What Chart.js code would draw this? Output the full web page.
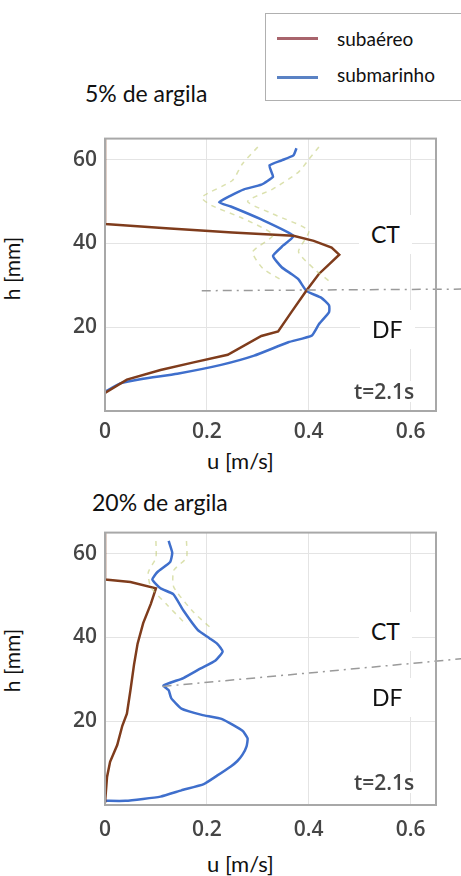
<!DOCTYPE html>
<html>
<head>
<meta charset="utf-8">
<script src="https://cdn.jsdelivr.net/npm/chart.js@4"></script>
<style>
  html, body { margin: 0; padding: 0; background: #fff; }
  body { width: 461px; height: 876px; position: relative; overflow: hidden; font-family: Lato, "Open Sans", sans-serif; color: #111; }
  canvas { position: absolute; left: 0; }
  .txt { position: absolute; white-space: nowrap; line-height: 1; }
  .box { background: #fff; padding: 8px 12px; }
  .tlab { font-family: "Open Sans", sans-serif; font-weight: 600; color: #454545; font-size: 21px; }
  .legend { position: absolute; left: 265px; top: 13px; width: 230px; height: 86px; border: 1.5px solid #b0b0b0; background: #fff; }
  .legend .ln { position: absolute; left: 11px; width: 41px; height: 3px; }
  .legend .lt { position: absolute; left: 71px; font-size: 19px; line-height: 1; }
</style>
</head>
<body>

<div class="legend">
  <div class="ln" style="top:23px;background:#a8646c"></div>
  <div class="lt" style="top:15px">subaéreo</div>
  <div class="ln" style="top:62px;background:#5a82c4"></div>
  <div class="lt" style="top:51px">submarinho</div>
</div>

<div class="txt" style="left:85px;top:82px;font-size:23px">5% de argila</div>
<div class="txt" style="left:92px;top:491px;font-size:23px">20% de argila</div>

<div class="txt" style="left:-20px;top:258px;font-size:21px;transform:rotate(-90deg)">h [mm]</div>
<div class="txt" style="left:-20px;top:650px;font-size:21px;transform:rotate(-90deg)">h [mm]</div>
<div class="txt" style="left:207px;top:450px;font-size:22px">u [m/s]</div>
<div class="txt" style="left:207px;top:853px;font-size:22px">u [m/s]</div>

<canvas id="c1" width="461" height="330" style="top:118px;width:461px;height:330px"></canvas>
<canvas id="c2" width="461" height="330" style="top:512px;width:461px;height:330px"></canvas>

<div class="txt box" style="left:359px;top:215px;font-size:23px">CT</div>
<div class="txt box" style="left:360px;top:310px;font-size:23px">DF</div>
<div class="txt tlab" style="left:354px;top:381px;background:#fff">t=2.1s</div>

<div class="txt box" style="left:359px;top:612px;font-size:23px">CT</div>
<div class="txt box" style="left:360px;top:678px;font-size:23px">DF</div>
<div class="txt tlab" style="left:354px;top:772px;background:#fff">t=2.1s</div>

<script>
// 5% de argila - subaereo (brown) and submarinho (blue), u in m/s, h in mm
const u5Sub = [0, 0, 0.12, 0.25, 0.37, 0.41, 0.445, 0.46, 0.44, 0.42, 0.396, 0.366, 0.34, 0.307, 0.241, 0.174, 0.109, 0.043, 0];
const h5Sub = [65, 44.6, 43.6, 42.6, 41.8, 40.6, 39, 37.3, 35, 32.7, 28.8, 23.6, 19, 17.9, 13.4, 11.6, 9.8, 7.5, 4.3];

const u5Mar = [0.376, 0.37, 0.347, 0.323, 0.327, 0.33, 0.307, 0.273, 0.247, 0.224, 0.247, 0.307, 0.37, 0.35, 0.33, 0.347, 0.366, 0.38, 0.396, 0.425, 0.44, 0.44, 0.42, 0.406, 0.36, 0.293, 0.228, 0.142, 0.075, 0.03, 0];
const h5Mar = [62.7, 61, 59.8, 58.6, 57, 55.9, 54, 52.9, 51.4, 49.8, 48.8, 45.7, 41.8, 39.5, 37, 34.3, 32.7, 31.4, 28.6, 27, 25.2, 23.6, 20.7, 18, 16.4, 13.2, 11, 8.9, 7.7, 6.6, 4.6];

const u5EnvL = [0.30, 0.27, 0.25, 0.19, 0.21, 0.27, 0.33, 0.29, 0.31, 0.35];
const h5EnvL = [63, 59, 55, 51, 49, 46, 42, 38, 34, 31];
const u5EnvR = [0.42, 0.40, 0.38, 0.33, 0.28, 0.33, 0.40, 0.38, 0.41, 0.44];
const h5EnvR = [63, 60, 57, 53, 50, 47, 43, 38, 34, 31];

const u5Cut = [0.19, 0.71];
const h5Cut = [28.7, 29.1];

// 20% de argila
const u20Sub = [0, 0, 0.05, 0.1, 0.09, 0.075, 0.064, 0.057, 0.05, 0.043, 0.034, 0.024, 0.01, 0.004, 0];
const h20Sub = [65, 53.8, 53.2, 51.7, 48, 43.4, 38.5, 33.5, 27.4, 21.8, 18.9, 14.3, 10.3, 6.7, 0.5];

const u20Mar = [0.125, 0.132, 0.128, 0.103, 0.093, 0.109, 0.134, 0.154, 0.182, 0.205, 0.221, 0.231, 0.217, 0.188, 0.154, 0.115, 0.125, 0.13, 0.15, 0.19, 0.23, 0.27, 0.28, 0.278, 0.27, 0.26, 0.247, 0.22, 0.194, 0.15, 0.109, 0.04, 0];
const h20Mar = [63, 60.2, 58, 55.6, 53.8, 51.7, 50.3, 46.4, 41.8, 39.8, 38.4, 36.6, 34.5, 32.6, 30.3, 28.5, 27.4, 25.5, 23, 21.5, 20.5, 17.7, 15.9, 14, 12, 10.5, 9.2, 7, 5, 3.5, 2, 1, 1];

const u20EnvL = [0.10, 0.10, 0.085, 0.09, 0.12, 0.16];
const h20EnvL = [63, 59, 55.5, 52, 48, 43];
const u20EnvR = [0.16, 0.16, 0.135, 0.135, 0.174, 0.21];
const h20EnvR = [63, 59, 56, 52, 46, 42];

const u20Cut = [0.113, 0.4, 0.71];
const h20Cut = [28.3, 31.5, 35];

const xTicks = [0, 0.2, 0.4, 0.6];
const yTicks = [20, 40, 60];

function pts(us, hs) {
    return us.map((u, i) => ({ x: u, y: hs[i] }));
}

// plot frame drawn round the chart area
const framePlugin = {
    id: 'frame',
    afterDatasetsDraw(chart) {
        const a = chart.chartArea;
        const ctx = chart.ctx;
        ctx.save();
        ctx.strokeStyle = '#a8a8a8';
        ctx.lineWidth = 2;
        ctx.strokeRect(a.left, a.top, a.right - a.left, a.bottom - a.top);
        ctx.restore();
    }
};

function makeChart(id, sets, tickPad) {
    const datasets = [
        { data: pts(sets.envL[0], sets.envL[1]), borderColor: 'rgba(195,205,120,0.6)', borderWidth: 1.5, borderDash: [5, 5], tension: 0.2 },
        { data: pts(sets.envR[0], sets.envR[1]), borderColor: 'rgba(195,205,120,0.6)', borderWidth: 1.5, borderDash: [5, 5], tension: 0.2 },
        { data: pts(sets.cut[0], sets.cut[1]), borderColor: '#9a9a9a', borderWidth: 1.5, borderDash: [9, 5, 2, 5], clip: false, tension: 0 },
        { data: pts(sets.sub[0], sets.sub[1]), borderColor: '#7f3c1c', borderWidth: 2.5, tension: 0 },
        { data: pts(sets.mar[0], sets.mar[1]), borderColor: '#3f6fcc', borderWidth: 2.5, tension: 0.15 }
    ];
    datasets.forEach(d => { d.showLine = true; d.pointRadius = 0; d.fill = false; });

    return new Chart(document.getElementById(id), {
        type: 'scatter',
        data: { datasets: datasets },
        plugins: [framePlugin],
        options: {
            responsive: false,
            animation: false,
            layout: { padding: { top: 10, right: 25, left: 0, bottom: 0 } },
            plugins: { legend: { display: false }, tooltip: { enabled: false } },
            scales: {
                x: {
                    type: 'linear',
                    min: 0,
                    max: 0.65,
                    afterFit(s) { s.height = 37; },
                    afterBuildTicks(s) { s.ticks = xTicks.map(v => ({ value: v })); },
                    border: { display: false },
                    grid: { color: '#e4e4e4', drawTicks: false },
                    ticks: {
                        padding: tickPad,
                        color: '#454545',
                        font: { family: 'Open Sans', size: 21, weight: '600' },
                        callback: v => String(Math.round(v * 10) / 10)
                    }
                },
                y: {
                    type: 'linear',
                    min: 0,
                    max: 65,
                    afterFit(s) { s.width = 105; },
                    afterBuildTicks(s) { s.ticks = yTicks.map(v => ({ value: v })); },
                    border: { display: false },
                    grid: { color: '#e4e4e4', drawTicks: false },
                    ticks: {
                        padding: 8,
                        color: '#454545',
                        font: { family: 'Open Sans', size: 21, weight: '600' }
                    }
                }
            }
        }
    });
}

makeChart('c1', {
    sub: [u5Sub, h5Sub], mar: [u5Mar, h5Mar],
    envL: [u5EnvL, h5EnvL], envR: [u5EnvR, h5EnvR], cut: [u5Cut, h5Cut]
}, 8);

makeChart('c2', {
    sub: [u20Sub, h20Sub], mar: [u20Mar, h20Mar],
    envL: [u20EnvL, h20EnvL], envR: [u20EnvR, h20EnvR], cut: [u20Cut, h20Cut]
}, 12);
</script>
</body>
</html>
